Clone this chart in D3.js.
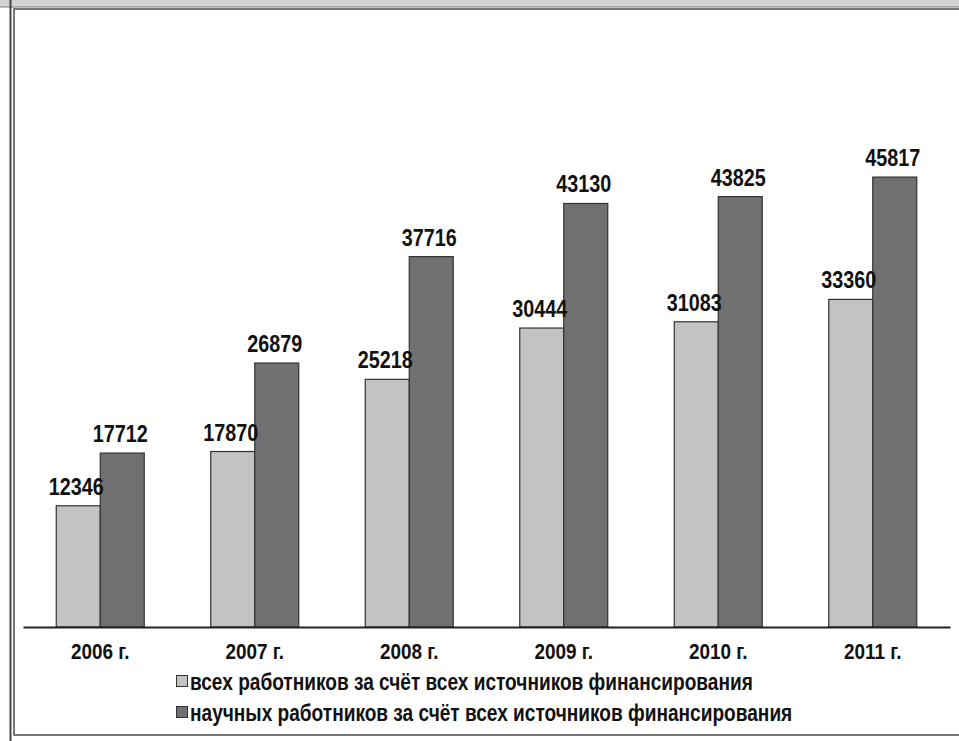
<!DOCTYPE html>
<html><head><meta charset="utf-8">
<script src="https://cdn.jsdelivr.net/npm/d3@7"></script>
<style>
html,body{margin:0;padding:0;background:#fff;}
svg{display:block;}
</style></head>
<body>
<svg id="chart" width="959" height="741"></svg>
<script>
const years = ["2006 г.","2007 г.","2008 г.","2009 г.","2010 г.","2011 г."];
const allWorkers = [12346,17870,25218,30444,31083,33360];
const sciWorkers = [17712,26879,37716,43130,43825,45817];
const seriesNames = ["всех работников за счёт всех источников финансирования",
                     "научных работников за счёт всех источников финансирования"];
const seriesColors = ["#c3c3c3","#707070"];

const svg = d3.select("#chart");
const FONT = "'Liberation Sans Narrow','Arial Narrow','Liberation Sans',Arial,sans-serif";
const SX = 0.86; // horizontal condensing to mimic a narrow face

function ntext(parent, x, y, str, size, anchor, sx) {
  const gg = parent.append("g").attr("transform", `translate(${x},${y}) scale(${sx||SX},1)`);
  return gg.append("text").attr("x",0).attr("y",0).attr("text-anchor",anchor||"start")
    .attr("font-family",FONT).attr("font-weight","bold").attr("font-size",size)
    .attr("fill","#111").text(str);
}

// top gray strip
const grad = svg.append("defs").append("linearGradient").attr("id","strip").attr("x1",0).attr("x2",0).attr("y1",0).attr("y2",1);
grad.append("stop").attr("offset","0").attr("stop-color","#cfcfcf");
grad.append("stop").attr("offset","1").attr("stop-color","#d9d9d9");
svg.append("rect").attr("x",0).attr("y",0).attr("width",959).attr("height",7).attr("fill","url(#strip)");
svg.append("line").attr("x1",0).attr("x2",959).attr("y1",7).attr("y2",7).attr("stroke","#7a7a7a").attr("stroke-width",1);
// outer left line
svg.append("line").attr("x1",10.5).attr("x2",10.5).attr("y1",0).attr("y2",741).attr("stroke","#444").attr("stroke-width",2);
// inner frame
svg.append("rect").attr("x",14).attr("y",9).attr("width",960).attr("height",726)
  .attr("fill","#fff").attr("stroke","#555").attr("stroke-width",1.6);

const x = d3.scaleBand().domain(years).range([23,950]).padding(0);
const y = d3.scaleLinear().domain([0,50000]).range([627,136]);
const barW = 44;

const data = years.map((yr,i)=>({yr, vals:[allWorkers[i], sciWorkers[i]]}));

const barsG = svg.append("g");
const labelsG = svg.append("g");
data.forEach(d=>{
  const cx = x(d.yr) + x.bandwidth()/2;
  d.vals.forEach((v,j)=>{
    const bx = cx - barW + j*barW;
    barsG.append("rect").attr("x",bx).attr("y",y(v)).attr("width",barW).attr("height",y(0)-y(v))
      .attr("fill",seriesColors[j]).attr("stroke","#333").attr("stroke-width",1.2);
    ntext(labelsG, bx+barW/2 - 2, y(v)-11, String(v), 23, "middle");
  });
});

// axis
const axis = svg.append("g").attr("transform","translate(0,627)")
  .call(d3.axisBottom(x).tickSize(0).tickPadding(0));
axis.select(".domain").attr("stroke","#222").attr("stroke-width",2.2);
axis.selectAll(".tick text").remove();
axis.selectAll(".tick").each(function(d){
  ntext(d3.select(this), 0, 32, d, 22, "middle");
});

// legend
const leg = svg.append("g");
seriesNames.forEach((n,i)=>{
  const ly = 690 + i*31;
  leg.append("rect").attr("x",176.5).attr("y",ly-14.5).attr("width",11).attr("height",11)
    .attr("fill",seriesColors[i]).attr("stroke","#333").attr("stroke-width",1);
  ntext(leg, 190, ly, n, 23, "start", 0.83);
});
</script>
</body></html>
